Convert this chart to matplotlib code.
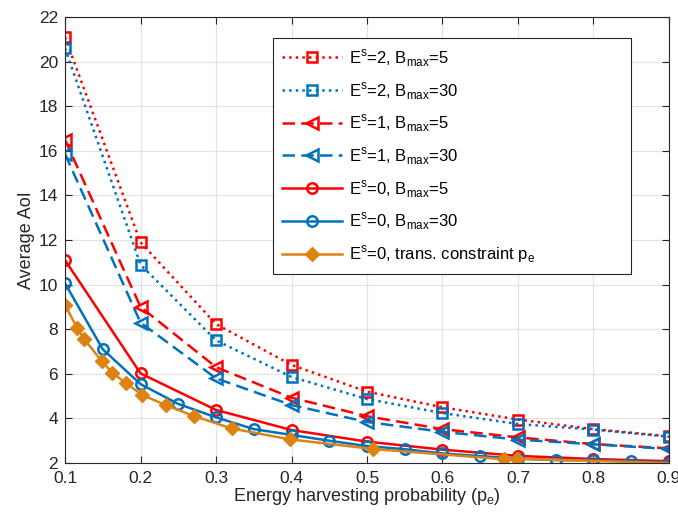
import matplotlib
matplotlib.use("Agg")
from matplotlib import pyplot as plt

plt.rcParams['font.family'] = ['Liberation Sans', 'DejaVu Sans']
plt.rcParams['mathtext.fontset'] = 'custom'
plt.rcParams['mathtext.rm'] = 'Liberation Sans'

# data
pe = [0.1, 0.2, 0.3, 0.4, 0.5, 0.6, 0.7, 0.8, 0.9]
e2_b5 = [21.1, 11.9, 8.23, 6.4, 5.2, 4.5, 3.95, 3.52, 3.2]
e2_b30 = [20.6, 10.9, 7.5, 5.86, 4.87, 4.24, 3.75, 3.5, 3.18]
e1_b5 = [16.5, 9.0, 6.3, 4.93, 4.1, 3.52, 3.15, 2.85, 2.66]
e1_b30 = [15.86, 8.3, 5.8, 4.6, 3.84, 3.4, 3.05, 2.84, 2.63]
e0_b5 = [11.1, 6.02, 4.38, 3.48, 2.96, 2.6, 2.32, 2.18, 2.08]

pe_fine = [0.1, 0.15, 0.2, 0.25, 0.3, 0.35, 0.4, 0.45, 0.5,
           0.55, 0.6, 0.65, 0.7, 0.75, 0.8, 0.85, 0.9]
e0_b30 = [10.06, 7.1, 5.54, 4.65, 4.05, 3.52, 3.26, 3.0, 2.76,
          2.62, 2.43, 2.31, 2.2, 2.13, 2.12, 2.08, 2.02]

pe_tc = [0.1, 0.1163, 0.1256, 0.1486, 0.1627, 0.1812, 0.2024, 0.2333,
         0.2713, 0.3208, 0.398, 0.508, 0.681, 0.699, 0.9]
e0_tc = [9.09, 8.04, 7.55, 6.57, 6.05, 5.57, 5.05, 4.6,
         4.1, 3.55, 3.06, 2.63, 2.17, 2.19, 2.0]
tc_marks = list(range(len(pe_tc) - 1))

red = "#ff0000"
blue = "#0072bd"
orange = "#dc8312"

fig = plt.figure(figsize=(6.78, 5.17), dpi=100)
ax = fig.add_axes([0.0959, 0.1044, 0.8908, 0.8626])

lw = 1.8
ax.plot(pe, e2_b5, color=red, linestyle=":", linewidth=lw, marker="s", markersize=6.5,
        markerfacecolor="none", markeredgewidth=1.8, label="E$^\\mathregular{s}$=2, B$_\\mathregular{max}$=5")
ax.plot(pe, e2_b30, color=blue, linestyle=":", linewidth=lw, marker="s", markersize=6.5,
        markerfacecolor="none", markeredgewidth=1.8, label="E$^\\mathregular{s}$=2, B$_\\mathregular{max}$=30")
ax.plot(pe, e1_b5, color=red, linestyle=(0, (5, 2.5)), linewidth=lw, marker="<", markersize=8.5,
        markerfacecolor="none", markeredgewidth=1.8, label="E$^\\mathregular{s}$=1, B$_\\mathregular{max}$=5")
ax.plot(pe, e1_b30, color=blue, linestyle=(0, (5, 2.5)), linewidth=lw, marker="<", markersize=8.5,
        markerfacecolor="none", markeredgewidth=1.8, label="E$^\\mathregular{s}$=1, B$_\\mathregular{max}$=30")
ax.plot(pe, e0_b5, color=red, linestyle="-", linewidth=lw, marker="o", markersize=7.5,
        markerfacecolor="none", markeredgewidth=1.8, label="E$^\\mathregular{s}$=0, B$_\\mathregular{max}$=5")
ax.plot(pe_fine, e0_b30, color=blue, linestyle="-", linewidth=lw, marker="o", markersize=7.5,
        markerfacecolor="none", markeredgewidth=1.8, label="E$^\\mathregular{s}$=0, B$_\\mathregular{max}$=30")
ax.plot(pe_tc, e0_tc, color=orange, linestyle="-", linewidth=lw, marker="D", markersize=7,
        markevery=tc_marks, markerfacecolor=orange, markeredgecolor=orange,
        label="E$^\\mathregular{s}$=0, trans. constraint p$_\\mathregular{e}$")

ax.set_xlim(0.1, 0.9)
ax.set_ylim(2, 22)
ax.set_xticks([0.1, 0.2, 0.3, 0.4, 0.5, 0.6, 0.7, 0.8, 0.9])
ax.set_xticklabels(["0.1", "0.2", "0.3", "0.4", "0.5", "0.6", "0.7", "0.8", "0.9"])
ax.set_yticks(range(2, 23, 2))
ax.tick_params(direction="in", top=True, right=True, labelsize=12.5, length=5, color="#262626",
               labelcolor="#262626")
ax.tick_params(axis="x", pad=6)
ax.tick_params(axis="y", pad=5)
for s in ax.spines.values():
    s.set_color("#262626")
    s.set_linewidth(0.8)
ax.grid(True, color="#e3e3e3", linewidth=0.9)
ax.set_axisbelow(True)

ax.set_xlabel("Energy harvesting probability (p$_\\mathregular{e}$)", fontsize=13, color="#262626", labelpad=0)
ax.set_ylabel("Average AoI", fontsize=13, color="#262626", labelpad=3)

# legend box stretched to the width seen in the reference
leg = ax.legend(loc="upper left", bbox_to_anchor=(0.344, 0.428, 0.593, 0.525), mode="expand",
                fontsize=12, handlelength=3.6, labelspacing=0.66, borderpad=0.55,
                fancybox=False, framealpha=1, edgecolor="#262626", handletextpad=0.4,
                borderaxespad=0)
leg.get_frame().set_linewidth(0.8)

plt.savefig("out.png", dpi=100)
